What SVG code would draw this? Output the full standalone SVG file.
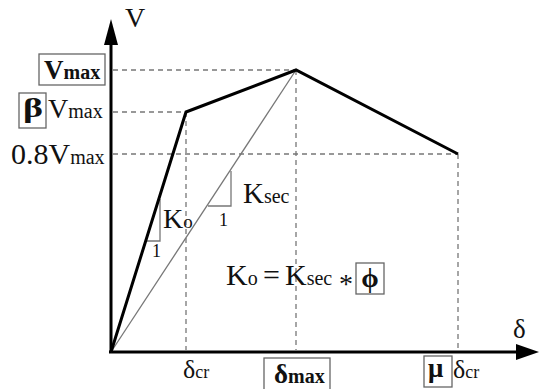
<svg xmlns="http://www.w3.org/2000/svg" width="542" height="389" viewBox="0 0 542 389">
<style>
text{font-family:"Liberation Serif","Times New Roman",serif;fill:#111}
.dash{stroke:#777;stroke-width:1.3;stroke-dasharray:5 4;fill:none}
.axis{stroke:#000;stroke-width:3;fill:none}
.curve{stroke:#000;stroke-width:3;fill:none;stroke-linejoin:miter}
.thin{stroke:#777;stroke-width:1.3;fill:none}
.box{stroke:#666;stroke-width:1.3;fill:none}
.b{font-weight:bold}
</style>
<rect width="542" height="389" fill="#fff"/>
<g id="guides">
<path class="dash" d="M113 70H296M113 112H186M113 154H458M186 112V350M296 70V350M458 154V350"/>
</g>
<g id="axes">
<path class="axis" d="M111 353V42M109 352H519"/>
<polygon points="111,19 104,45 118,45" fill="#000"/>
<polygon points="539,352 516,344 516,360" fill="#000"/>
<text x="125" y="27" font-size="28">V</text>
<text x="513" y="338" font-size="27">δ</text>
</g>
<g id="secant">
<path class="thin" d="M111 352L296 70"/>
<path class="thin" d="M160 199V241H147"/>
<path class="thin" d="M231 171V206H208"/>
<text x="152" y="257" font-size="18">1</text>
<text x="219" y="226" font-size="18">1</text>
<text x="163" y="228" font-size="28">K<tspan font-size="19">o</tspan></text>
<text x="243" y="203" font-size="29">K<tspan font-size="20">sec</tspan></text>
</g>
<g id="curve">
<path class="curve" d="M111 352L186 112L296 70L458 154"/>
</g>
<g id="ylabels">
<rect class="box" x="39" y="54" width="66" height="31"/>
<text x="44" y="79" class="b" font-size="27">V<tspan font-size="20">max</tspan></text>
<rect class="box" x="19" y="93" width="27" height="35"/>
<text x="23" y="117" class="b" font-size="28" textLength="20" lengthAdjust="spacingAndGlyphs">β</text>
<text x="48" y="118" font-size="28">V<tspan font-size="20">max</tspan></text>
<text x="11" y="164" font-size="30">0.8V<tspan font-size="20">max</tspan></text>
</g>
<g id="xlabels">
<text x="183" y="378" font-size="26">δ<tspan font-size="18">cr</tspan></text>
<rect class="box" x="264" y="358" width="66" height="36"/>
<text x="274" y="383" class="b" font-size="27">δ<tspan font-size="20">max</tspan></text>
<rect class="box" x="424" y="356" width="28" height="31"/>
<text x="428" y="377" class="b" font-size="27">μ</text>
<text x="453" y="378" font-size="26">δ<tspan font-size="18">cr</tspan></text>
</g>
<g id="formula">
<text x="226" y="285" font-size="30">K<tspan font-size="20">o</tspan></text>
<text x="263" y="285" font-size="30">=</text>
<text x="285" y="285" font-size="30">K<tspan font-size="20">sec</tspan></text>
<text x="339" y="293" font-size="28">*</text>
<rect class="box" x="356" y="263" width="28" height="31"/>
<text x="370" y="287" class="b" font-size="28" text-anchor="middle">ϕ</text>
</g>
</svg>
